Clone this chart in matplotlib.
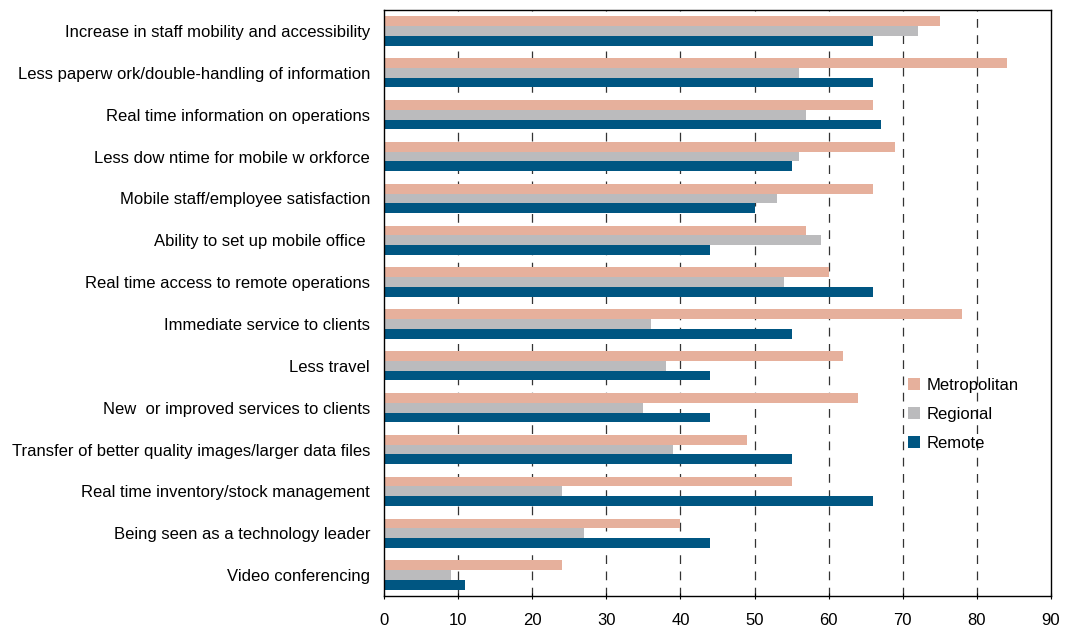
import numpy as np
import matplotlib.pyplot as plt
from matplotlib.patches import Patch

plt.rcParams['font.family'] = ['Liberation Sans', 'DejaVu Sans']

categories = [
    'Increase in staff mobility and accessibility',
    'Less paperw ork/double-handling of information',
    'Real time information on operations',
    'Less dow ntime for mobile w orkforce',
    'Mobile staff/employee satisfaction',
    'Ability to set up mobile office ',
    'Real time access to remote operations',
    'Immediate service to clients',
    'Less travel',
    'New  or improved services to clients',
    'Transfer of better quality images/larger data files',
    'Real time inventory/stock management',
    'Being seen as a technology leader',
    'Video conferencing',
]
metropolitan = [75, 84, 66, 69, 66, 57, 60, 78, 62, 64, 49, 55, 40, 24]
regional = [72, 56, 57, 56, 53, 59, 54, 36, 38, 35, 39, 24, 27, 9]
remote = [66, 66, 67, 55, 50, 44, 66, 55, 44, 44, 55, 66, 44, 11]

series = [('Metropolitan', metropolitan, '#E6B09C'),
          ('Regional', regional, '#BBBBBD'),
          ('Remote', remote, '#005682')]

fig = plt.figure(figsize=(10.71, 6.3), dpi=100)
ax = fig.add_axes([0.3585, 0.054, 0.6228, 0.930])

y = np.arange(len(categories))
h = 0.233
for i, (name, vals, col) in enumerate(series):
    ax.barh(y + (i - 1) * h, vals, height=h, color=col, label=name, zorder=2)

ax.set_xlim(0, 90)
ax.set_ylim(len(categories) - 0.5, -0.5)
ax.set_xticks(range(0, 91, 10))
ax.set_yticks(y)
ax.set_yticklabels(categories)
ax.tick_params(axis='y', length=0, pad=10, labelsize=12)
ax.tick_params(axis='x', length=4, direction='inout', pad=10, labelsize=12)

# dashed vertical gridlines
for x in range(10, 90, 10):
    ax.axvline(x, color='#333333', lw=0.9, ls=(0, (7, 6)), zorder=1)

for s in ax.spines.values():
    s.set_linewidth(1.0)
    s.set_color('black')

handles = [Patch(facecolor=c, label=n) for n, _, c in series]
ax.legend(handles=handles, loc='center left', bbox_to_anchor=(0.763, 0.31),
          frameon=False, fontsize=12, handlelength=0.75, handleheight=0.75,
          handletextpad=0.4, labelspacing=0.85)

fig.savefig('out.png', dpi=100)
